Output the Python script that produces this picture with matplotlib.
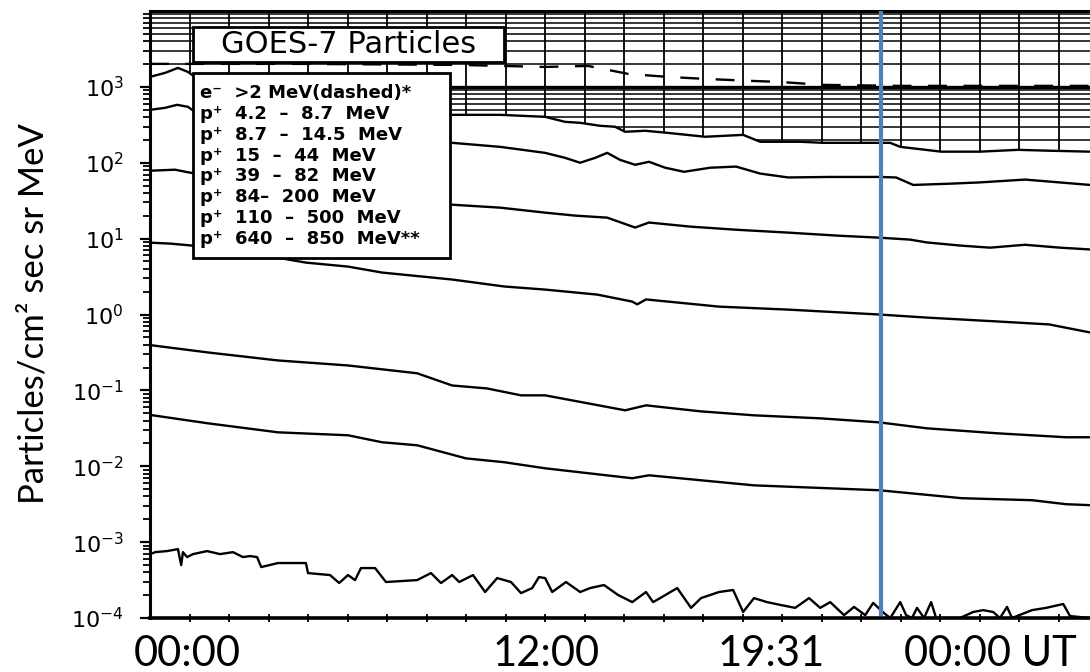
import numpy as np
import matplotlib
matplotlib.use('Agg')
import matplotlib.pyplot as plt
from matplotlib.patches import Rectangle
from matplotlib.ticker import FixedLocator, LogLocator, NullFormatter

plt.rcParams['mathtext.default'] = 'regular'

# time axis in hours after 00:00, fluxes in particles/cm2 sec sr MeV
e_hours = [-1.26, 3.84, 9.28, 12.17, 13.63, 14.99, 16.32, 17.61, 19.14, 20.09, 21.62, 24.24, 27.63, 30.69]
e_flux = [2010, 2010, 1946, 1832, 1888, 1483, 1355, 1274, 1200, 1165, 1063, 1031, 1031, 1031]

p1_hours = [-1.26, -0.75, -0.31, 0.03, 0.17, 3.84, 7.24, 9.01, 10.64, 12.17, 12.85, 13.36, 14.04, 14.55, 14.89,
            15.57, 16.32, 17.61, 18.90, 19.48, 20.84, 21.62, 23.28, 23.90, 24.24, 25.63, 26.95, 28.25, 29.33, 30.69]
p1_flux = [1355, 1528, 1778, 1575, 1439, 785, 529, 428, 428, 403, 346, 336, 307, 298, 256,
           264, 248, 220, 233, 189, 189, 183, 183, 183, 162, 140, 140, 148, 144, 140]

p2_hours = [-1.26, -0.75, -0.34, 0.03, 0.17, 3.84, 7.24, 9.01, 10.64, 12.17, 12.85, 13.36, 13.87, 14.28, 14.72, 15.23,
            15.70, 16.25, 16.89, 17.78, 18.66, 19.48, 20.43, 21.86, 23.52, 24.10, 24.68, 25.94, 26.92, 28.48, 29.67, 30.69]
p2_flux = [498, 529, 580, 546, 498, 316, 226, 183, 162, 135, 116, 100, 116, 135, 109, 94,
           103, 86, 76, 86, 89, 72, 64, 65, 65, 64, 51, 53, 55, 60, 55, 51]

p3_hours = [-1.26, -0.41, 0.10, 3.84, 7.24, 9.01, 10.64, 12.17, 13.19, 14.28, 15.23, 15.70, 17.10, 18.66, 20.43,
            22.20, 23.52, 24.58, 25.15, 26.28, 27.29, 28.48, 29.67, 30.69]
p3_flux = [78.5, 81, 74, 46.9, 34.6, 28, 25.6, 22, 20.1, 18.9, 14, 16.3, 14.4, 13.1, 12,
           10.9, 10.3, 9.7, 8.9, 8.1, 7.6, 8.3, 7.6, 7.2]

p4_hours = [-1.26, -0.58, 0.17, 1.46, 3.09, 4.04, 5.47, 6.63, 9.01, 10.78, 12.17, 13.94, 15.13, 15.30, 15.60,
            18.08, 20.43, 23.52, 25.15, 27.53, 29.30, 30.69]
p4_flux = [8.85, 8.6, 8.1, 7.2, 5.6, 4.83, 4.28, 3.57, 2.89, 2.34, 2.13, 1.83, 1.48, 1.36, 1.58,
           1.27, 1.16, 1.0, 0.91, 0.81, 0.74, 0.58]

p5_hours = [-1.16, 0.71, 3.09, 5.47, 7.82, 9.01, 10.20, 11.35, 12.17, 14.89, 15.60, 17.44, 19.27, 21.52,
            23.52, 25.15, 27.53, 29.88, 30.69]
p5_flux = [0.391, 0.316, 0.248, 0.213, 0.168, 0.116, 0.106, 0.086, 0.086, 0.0546, 0.0635, 0.053, 0.0469, 0.0428,
           0.0379, 0.0316, 0.0272, 0.0241, 0.0241]

p6_hours = [-1.16, 0.71, 3.09, 5.47, 6.63, 7.82, 9.48, 10.78, 12.17, 15.13, 15.70, 19.27, 23.52, 26.34,
            28.72, 29.88, 30.69]
p6_flux = [0.0469, 0.0368, 0.028, 0.0256, 0.0207, 0.0189, 0.0127, 0.0113, 0.0094, 0.00695, 0.0076, 0.0056,
           0.00483, 0.00379, 0.00357, 0.00316, 0.00307]

p7_hours = [-1.16, -1.09, -0.68, -0.31, -0.20, -0.14, 0.0, 0.20, 0.68, 1.12, 1.56, 1.90, 2.14, 2.38, 2.52,
            3.09, 4.04, 4.11, 4.86, 5.17, 5.47, 5.71, 5.91, 6.39, 6.76, 7.82, 8.29, 8.63, 9.01, 9.25,
            9.72, 10.13, 10.54, 11.01, 11.35, 11.73, 11.96, 12.17, 12.41, 12.88, 13.36, 13.70, 14.17, 14.65, 15.13,
            15.60, 15.84, 16.08, 16.66, 17.13, 17.47, 18.08, 18.56, 18.90, 19.27, 19.71, 20.19, 20.67, 21.14, 21.52,
            21.86, 22.33, 22.67, 23.05, 23.32, 23.69, 23.90, 24.24, 24.44, 24.64, 24.81, 25.05, 25.29, 25.46, 26.27,
            26.72, 27.06, 27.40, 27.63, 27.87, 28.04, 28.72, 29.20, 29.78, 30.01, 30.69]
p7_flux = [7.16e-4, 7.38e-4, 7.62e-4, 8.09e-4, 4.98e-4, 7.38e-4, 6.35e-4, 6.95e-4, 7.62e-4, 6.95e-4, 7.38e-4,
           6.35e-4, 6.55e-4, 6.35e-4, 4.69e-4,
           5.30e-4, 5.30e-4, 3.91e-4, 3.68e-4, 2.89e-4, 3.68e-4, 3.16e-4, 4.55e-4, 4.55e-4, 2.98e-4,
           3.16e-4, 3.91e-4, 2.89e-4, 3.68e-4, 2.98e-4,
           3.68e-4, 2.20e-4, 3.36e-4, 2.98e-4, 2.13e-4, 2.48e-4, 3.46e-4, 3.36e-4, 2.20e-4, 2.98e-4,
           2.20e-4, 2.48e-4, 2.72e-4, 2.01e-4, 1.62e-4,
           2.20e-4, 1.62e-4, 1.83e-4, 2.48e-4, 1.36e-4, 1.83e-4, 2.20e-4, 2.34e-4, 1.20e-4, 1.83e-4,
           1.62e-4, 1.48e-4, 1.36e-4, 1.83e-4, 1.36e-4,
           1.62e-4, 1.09e-4, 1.40e-4, 1.09e-4, 1.58e-4, 1.16e-4, 1.0e-4, 1.62e-4, 1.09e-4, 1.0e-4,
           1.36e-4, 1.0e-4, 1.62e-4, 1.0e-4, 1.0e-4,
           1.20e-4, 1.27e-4, 1.20e-4, 1.0e-4, 1.40e-4, 1.0e-4, 1.27e-4, 1.36e-4, 1.53e-4, 1.06e-4, 1.0e-4]

legend_lines = ['e\u207b  >2 MeV(dashed)*', 'p\u207a  4.2  \u2013  8.7  MeV', 'p\u207a  8.7  \u2013  14.5  MeV',
                'p\u207a  15  \u2013  44  MeV', 'p\u207a  39  \u2013  82  MeV', 'p\u207a  84\u2013  200  MeV',
                'p\u207a  110  \u2013  500  MeV', 'p\u207a  640  \u2013  850  MeV**']
tick_hours = [0.0, 12.2, 19.85, 27.3]
tick_labels = ['00:00', '12:00', '19:31', '00:00 UT']
event_hour = 23.6

x_min, x_max = -1.26, 30.69
grid_step = 1.3426  # spacing of the vertical grid lines of the scan, hours

fig = plt.figure(figsize=(10.9, 6.72), dpi=100)
ax = fig.add_axes([150 / 1090, 54 / 672, 940 / 1090, 607 / 672])
ax.set_yscale('log')
ax.set_xlim(x_min, x_max)
ax.set_ylim(1e-4, 1e4)

# dense grid of the upper band (only visible above the 4.2-8.7 MeV curve)
for k in (2, 3):
    for m in range(1, 10):
        ax.axhline(m * 10 ** k, color='black', lw=2.4 if (m == 1 and k == 3) else 1.1, zorder=1)
for gx in np.arange(x_min + grid_step, x_max, grid_step):
    ax.axvline(gx, color='black', lw=1.3, zorder=1)
ax.fill_between(p1_hours, p1_flux, 1e-5, color='white', zorder=1.5, lw=0)

curves = [(p1_hours, p1_flux), (p2_hours, p2_flux), (p3_hours, p3_flux), (p4_hours, p4_flux),
          (p5_hours, p5_flux), (p6_hours, p6_flux), (p7_hours, p7_flux)]
for hx, fy in curves:
    ax.plot(hx, fy, color='black', lw=1.7, zorder=3, solid_joinstyle='round')
ax.plot(e_hours, e_flux, color='black', lw=1.7, ls=(0, (8, 7)), zorder=3)

ax.axvline(event_hour, ymin=0.007, ymax=0.998, color='#4F81BD', lw=3.0, zorder=6)

# title box and legend box
ax.add_patch(Rectangle((0.0457, 0.916), 0.331, 0.0577, transform=ax.transAxes,
                       facecolor='white', edgecolor='black', lw=2, zorder=4))
ax.text(0.2112, 0.9448, 'GOES-7 Particles', transform=ax.transAxes, ha='center', va='center',
        fontsize=22, zorder=5)
ax.add_patch(Rectangle((0.0457, 0.593), 0.2734, 0.3048, transform=ax.transAxes,
                       facecolor='white', edgecolor='black', lw=2, zorder=4))
for i, line in enumerate(legend_lines):
    ax.text(0.053, 0.865 - i * 0.0344, line, transform=ax.transAxes, ha='left', va='center',
            fontsize=13, fontweight='bold', zorder=5)

# axes styling
ax.spines['right'].set_visible(False)
ax.spines['left'].set_linewidth(2.2)
ax.spines['bottom'].set_linewidth(2.6)
ax.spines['top'].set_linewidth(2.2)

ax.yaxis.set_major_locator(FixedLocator([10.0 ** k for k in range(-4, 4)]))
ax.set_yticklabels([r'$10^{%d}$' % k for k in range(-4, 4)])
ax.yaxis.set_minor_locator(LogLocator(base=10, subs=np.arange(2, 10), numticks=20))
ax.yaxis.set_minor_formatter(NullFormatter())
ax.tick_params(axis='y', which='major', direction='out', length=7, width=1.6, labelsize=16, pad=12)
ax.tick_params(axis='y', which='minor', direction='out', length=5, width=1.3)

ax.set_xticks(tick_hours)
ax.set_xticklabels(tick_labels, fontfamily='Lato', fontsize=30)
ax.set_xticks(np.arange(x_min + grid_step, x_max, grid_step), minor=True)
ax.tick_params(axis='x', which='major', length=0, pad=12)
ax.tick_params(axis='x', which='minor', direction='inout', length=6, width=1.3)

fig.text(34 / 1090, 1 - 314 / 672, 'Particles/cm\u00b2 sec sr MeV', rotation=90, ha='center', va='center',
         fontfamily='Lato', fontsize=25)

fig.savefig('out.png', dpi=100)
